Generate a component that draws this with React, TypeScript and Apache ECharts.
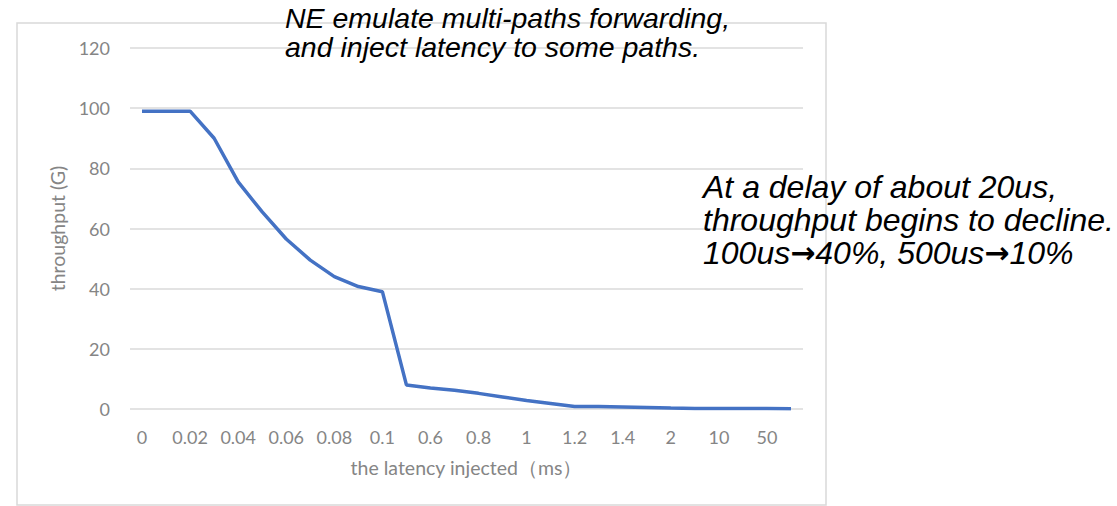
import React, { useEffect, useRef } from "react";
import * as echarts from "echarts";

const latencyCategories = [
  "0", "0.01", "0.02", "0.03", "0.04", "0.05", "0.06", "0.07", "0.08", "0.09",
  "0.1", "0.5", "0.6", "0.7", "0.8", "0.9", "1", "1.1", "1.2", "1.3",
  "1.4", "1.5", "2", "5", "10", "20", "50", "100",
];

const throughputValues = [
  99, 99, 99, 90, 75.5, 65.5, 56.5, 49.5, 44, 40.7,
  39, 8, 7, 6.2, 5.2, 4, 2.8, 1.8, 0.8, 0.8,
  0.7, 0.5, 0.3, 0.2, 0.2, 0.2, 0.2, 0.1,
];

const yTicks = { min: 0, max: 120, interval: 20 };

const topNote = ["NE emulate multi-paths forwarding,", "and inject latency to some paths."];
const rightNote = [
  "At a delay of about 20us,",
  "throughput begins to decline.",
  "100us{a|\u2192}40%, 500us{a|\u2192}10%",
];

const xTitle = "the latency injected\uff08ms\uff09";
const yTitle = "throughput (G)";

export default function App() {
  const ref = useRef<HTMLDivElement>(null);

  useEffect(() => {
    if (!ref.current) return;
    const chart = echarts.init(ref.current, null, { renderer: "svg" });
    const axisFont = "Lato, 'Noto Sans', sans-serif";
    const noteFont = "'Liberation Sans', Arial, sans-serif";
    const axisColor = "#858585";

    const graphics: any[] = [
      {
        type: "rect",
        shape: { x: 17, y: 23, width: 809, height: 482 },
        style: { fill: "none", stroke: "#d9d9d9", lineWidth: 1.5 },
        z: 0,
        silent: true,
      },
    ];
    topNote.forEach((t, i) => {
      graphics.push({
        type: "text",
        x: 285,
        y: 17.5 + i * 29.5,
        style: {
          text: t,
          fontSize: 28.5,
          fontStyle: "italic",
          fontFamily: noteFont,
          fill: "#000",
          verticalAlign: "middle",
          align: "left",
        },
        z: 100,
      });
    });
    rightNote.forEach((t, i) => {
      graphics.push({
        type: "text",
        x: 703,
        y: 187 + i * 32.5 + (i === 2 ? 0.5 : 0),
        style: {
          text: t,
          fontSize: 32,
          fontStyle: "italic",
          fontFamily: noteFont,
          fill: "#000",
          verticalAlign: "middle",
          align: "left",
          rich: {
            a: {
              fontSize: 30,
              fontStyle: "normal",
              fontWeight: "bold",
              fontFamily: "'DejaVu Sans', sans-serif",
              fill: "#000",
            },
          },
        },
        z: 100,
      });
    });

    chart.setOption({
      animation: false,
      backgroundColor: "#ffffff",
      grid: { left: 130, right: 314, top: 48, bottom: 97, containLabel: false },
      xAxis: {
        type: "category",
        data: latencyCategories,
        boundaryGap: true,
        axisLine: { show: false },
        axisTick: { show: false },
        axisLabel: {
          interval: 1,
          color: axisColor,
          fontSize: 18,
          fontFamily: axisFont,
          margin: 19,
        },
        name: xTitle,
        nameLocation: "middle",
        nameGap: 48,
        nameTextStyle: { color: axisColor, fontSize: 19.5, fontFamily: axisFont },
      },
      yAxis: {
        type: "value",
        min: yTicks.min,
        max: yTicks.max,
        interval: yTicks.interval,
        axisLine: { show: false },
        axisTick: { show: false },
        splitLine: { lineStyle: { color: "#e3e3e3", width: 2 } },
        axisLabel: {
          color: axisColor,
          fontSize: 18,
          fontFamily: axisFont,
          margin: 20,
        },
        name: yTitle,
        nameLocation: "middle",
        nameGap: 62,
        nameTextStyle: { color: axisColor, fontSize: 19.5, fontFamily: axisFont },
      },
      series: [
        {
          type: "line",
          data: throughputValues,
          symbol: "none",
          lineStyle: { color: "#4472c4", width: 3.5 },
          z: 5,
        },
      ],
      graphic: graphics,
    });

    return () => chart.dispose();
  }, []);

  return (
    <div
      ref={ref}
      style={{ position: "fixed", left: 0, top: 0, width: 1117, height: 506 }}
    />
  );
}
